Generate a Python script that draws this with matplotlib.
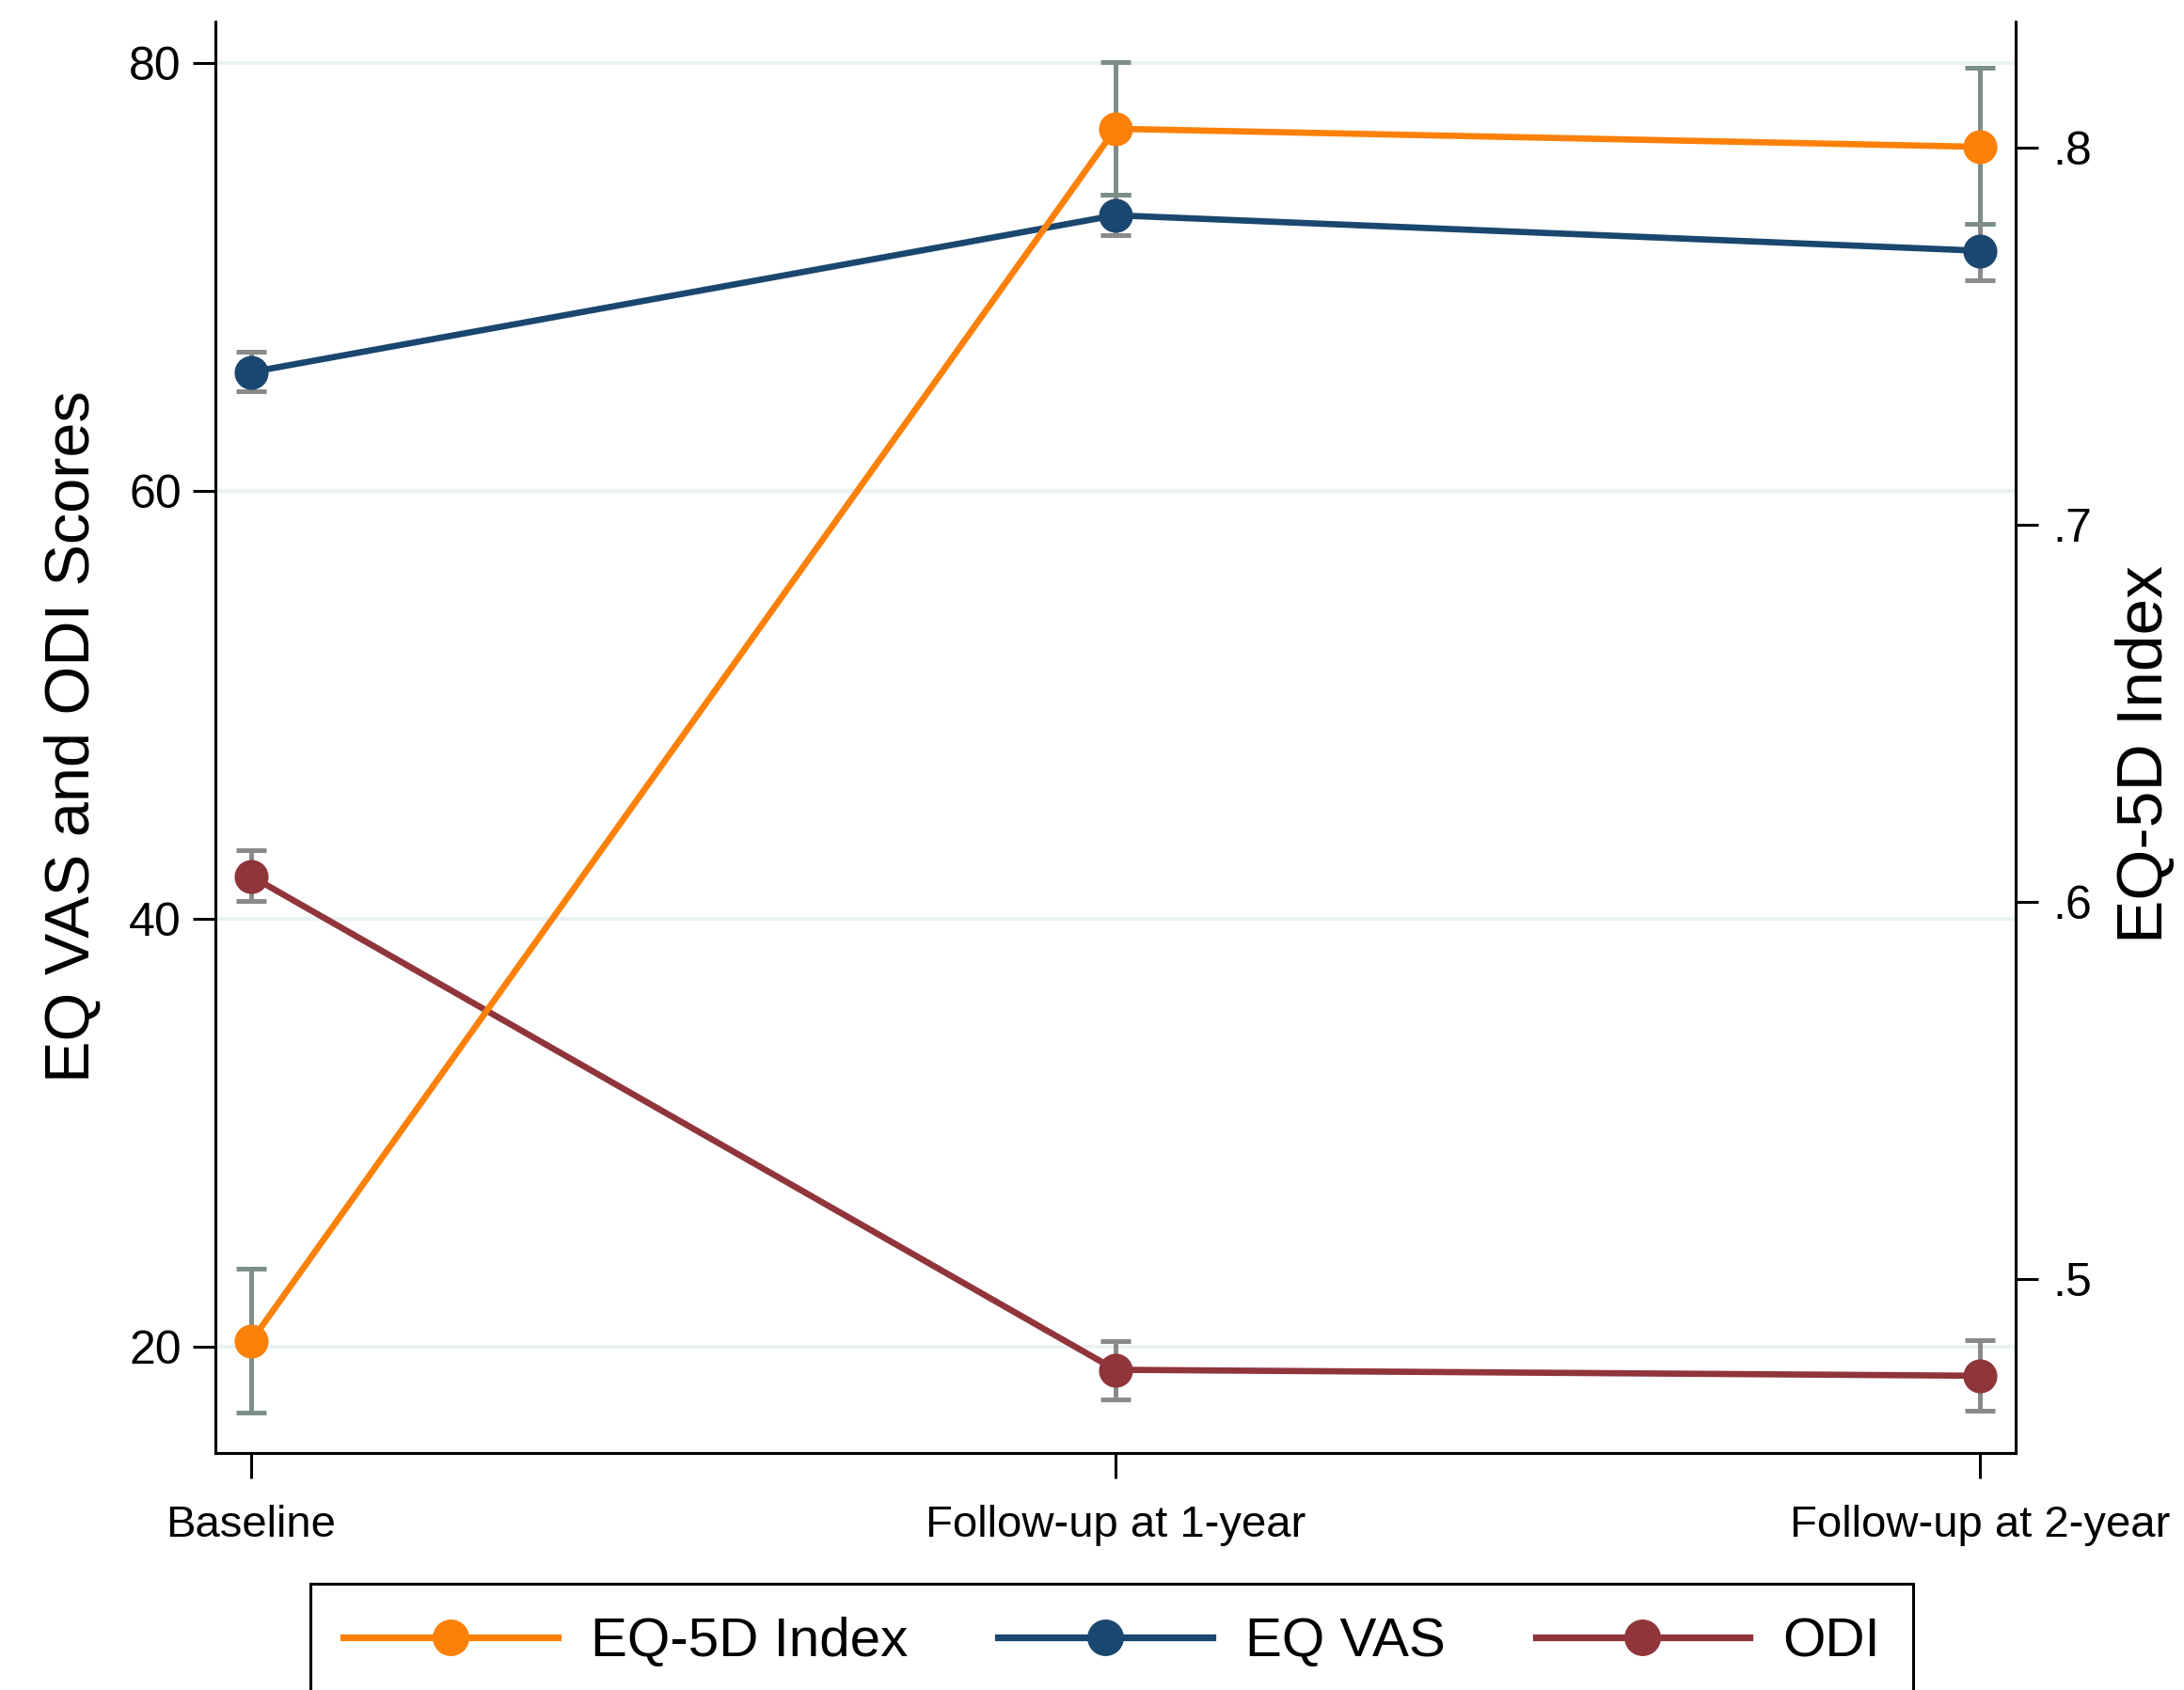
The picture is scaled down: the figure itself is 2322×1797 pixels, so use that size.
import matplotlib
matplotlib.use("Agg")
import matplotlib.pyplot as plt
from matplotlib.lines import Line2D
import numpy as np

plt.rcParams['font.family'] = ['Liberation Sans', 'DejaVu Sans']

# --- Data ---
timepoints = ["Baseline", "Follow-up at 1-year", "Follow-up at 2-year"]

eq5d_mean = [0.4835, 0.805, 0.8002]
eq5d_lo = [0.4646, 0.7875, 0.7798]
eq5d_hi = [0.5027, 0.8227, 0.8212]

vas_mean = [65.55, 72.88, 71.22]
vas_lo = [64.66, 71.96, 69.86]
vas_hi = [66.5, 73.86, 72.48]

odi_mean = [41.99, 18.92, 18.64]
odi_lo = [40.85, 17.54, 17.0]
odi_hi = [43.21, 20.26, 20.31]

left_ticks = [20, 40, 60, 80]
right_ticks = [0.5, 0.6, 0.7, 0.8]
right_ticklabels = [".5", ".6", ".7", ".8"]

# --- Style ---
c_eq5d = "#fd8008"
c_vas = "#1a476f"
c_odi = "#90353b"
c_ci_eq5d = "#7b8f88"
c_ci = "#8a8a8a"
grid_col = "#eaf2f3"

W, H = 2322, 1797
fig = plt.figure(figsize=(W / 100, H / 100), dpi=100)
ax = fig.add_axes([229 / W, 1 - 1545 / H, (2143 - 229) / W, (1545 - 23) / H])
ax2 = ax.twinx()

x = np.arange(len(timepoints))
lw = 4.8
ms = 25
cap = 11.5
elw = 3.6


def draw(a, mean, lo, hi, color, ci_color):
    mean = np.array(mean)
    err = [mean - np.array(lo), np.array(hi) - mean]
    a.errorbar(x, mean, yerr=err, fmt='none', ecolor=ci_color,
               elinewidth=elw, capsize=cap, capthick=elw, zorder=2)
    a.plot(x, mean, color=color, linewidth=lw, marker='o',
           markersize=ms, zorder=3)


draw(ax, odi_mean, odi_lo, odi_hi, c_odi, c_ci)
draw(ax, vas_mean, vas_lo, vas_hi, c_vas, c_ci)
draw(ax2, eq5d_mean, eq5d_lo, eq5d_hi, c_eq5d, c_ci_eq5d)

# axes limits
ax.set_xlim(-0.0413, 2.0413)
ax.set_ylim(15.03, 81.93)
ax2.set_ylim(0.4539, 0.8334)

# grid on left axis only
ax.set_yticks(left_ticks)
ax.yaxis.grid(True, color=grid_col, linewidth=3.0)
ax.set_axisbelow(True)

ax.set_xticks(x)
ax.set_xticklabels(timepoints, fontsize=34)
ax.tick_params(axis='x', length=19.5, width=2.2, pad=20)
ax.tick_params(axis='y', labelsize=36, length=17, width=2.2, pad=9)

ax2.set_yticks(right_ticks)
ax2.set_yticklabels(right_ticklabels)
ax2.tick_params(axis='y', labelsize=36, length=17, width=2.2, pad=11.5)

for a in (ax, ax2):
    a.spines['top'].set_visible(False)
    for s in ('left', 'right', 'bottom'):
        a.spines[s].set_linewidth(2.2)

fig.text(78 / W, 1 - 783 / H, "EQ VAS and ODI Scores", rotation=90,
         ha='center', va='center', fontsize=48)
fig.text(2281 / W, 1 - 802 / H, "EQ-5D Index", rotation=90,
         ha='center', va='center', fontsize=50)

handles = [Line2D([], [], color=c, linewidth=5.2, marker='o', markersize=27)
           for c in (c_eq5d, c_vas, c_odi)]
leg = fig.legend(handles, ["EQ-5D Index", "EQ VAS", "ODI"],
                 loc='upper left', bbox_to_anchor=(330 / W, 1 - 1684 / H),
                 ncol=3, fontsize=42, frameon=True, fancybox=False,
                 edgecolor='black', framealpha=1, borderaxespad=0,
                 handlelength=3.9, handletextpad=0.6, columnspacing=1.65,
                 borderpad=0.6)
leg.get_frame().set_linewidth(2.2)

fig.savefig("out.png", dpi=100)
plt.close(fig)
